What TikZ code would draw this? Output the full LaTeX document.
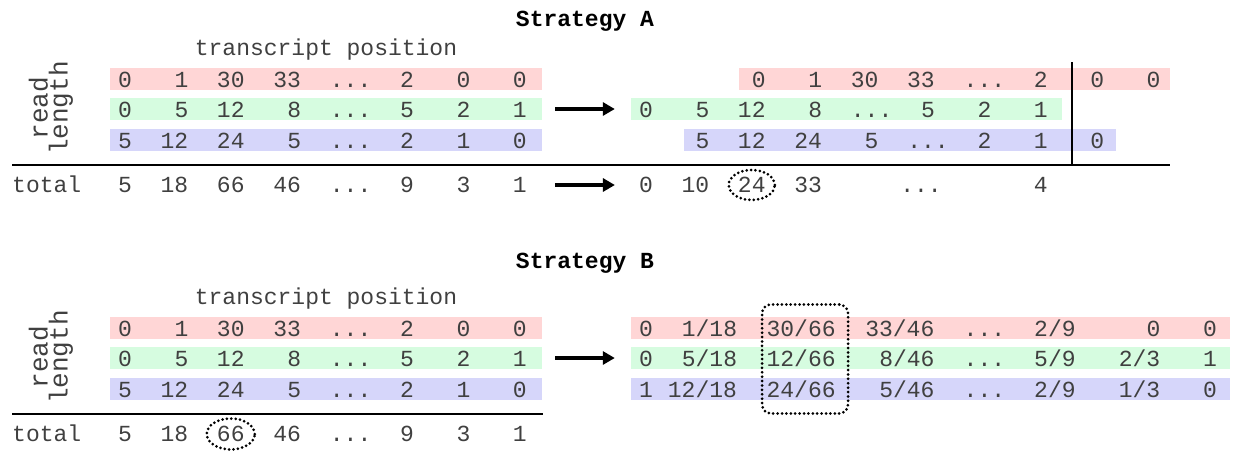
\documentclass[tikz,border=0pt]{standalone}
\usepackage{fontspec}
\setmainfont{Liberation Mono}
\usetikzlibrary{arrows.meta,shapes.geometric}
\definecolor{rowred}{RGB}{255,214,214}
\definecolor{rowgreen}{RGB}{214,252,224}
\definecolor{rowblue}{RGB}{214,214,250}
\definecolor{numgray}{RGB}{64,64,64}
\newcommand{\tdots}{...}

\begin{document}
\begin{tikzpicture}[x=1pt,y=-1pt,
    cell/.style={inner sep=0pt, text height=14pt, text depth=0pt, anchor=base,
        text=numgray, font=\fontsize{23}{23}\selectfont},
    band/.style={inner sep=0pt, minimum height=22pt, minimum width=#1},
    plaintext/.style={inner sep=0pt, anchor=base, text=numgray, font=\fontsize{23}{23}\selectfont},
    heading/.style={inner sep=0pt, anchor=base, font=\fontsize{23}{23}\selectfont\bfseries},
    rule/.style={line width=2pt},
    bigarrow/.style={line width=4pt, -{Triangle[length=12pt,width=13pt]}},
    ring/.style={draw, line width=3pt, dash pattern=on 0pt off 4.4pt, line cap=round, inner sep=0pt}]

    \useasboundingbox (0,0) rectangle (1237,451);
    \pgfmathsetmacro{\cw}{14.1} % width of one character
    \pgfmathsetmacro{\xl}{125}  % first column of the left tables
    \pgfmathsetmacro{\xr}{646}  % first column of the right tables

    % Headings
    \node[heading] (titleA) at (585,26) {Strategy A};
    \node[heading] (titleB) at (585,268) {Strategy B};

    % Left table, the same for both strategies
    \foreach \p/\yo in {A/0,B/249} {
        \node[plaintext] (\p-pos) at (326,{55+\yo}) {transcript position};
        \node[plaintext, rotate=90, align=center, anchor=center,
            font=\fontsize{26}{20}\selectfont] (\p-len) at (51,{108+\yo}) {read\\length};
        \node[band=432pt, fill=rowred] (\p-lrb) at (326,{79+\yo}) {};
        \node[band=432pt, fill=rowgreen] (\p-lgb) at (326,{109+\yo}) {};
        \node[band=432pt, fill=rowblue] (\p-lbb) at (326,{140+\yo}) {};
        \foreach \i/\t [count=\k] in {0/0,4/1,7.5/30,11.5/33,16/\tdots,20/2,24/0,28/0}
            \node[cell] (\p-lr-\k) at ({\xl+\i*\cw},{87+\yo}) {\t};
        \foreach \i/\t [count=\k] in {0/0,4/5,7.5/12,12/8,16/\tdots,20/5,24/2,28/1}
            \node[cell] (\p-lg-\k) at ({\xl+\i*\cw},{117+\yo}) {\t};
        \foreach \i/\t [count=\k] in {0/5,3.5/12,7.5/24,12/5,16/\tdots,20/2,24/1,28/0}
            \node[cell] (\p-lb-\k) at ({\xl+\i*\cw},{148+\yo}) {\t};
        \node[plaintext, anchor=base west] (\p-total) at (12,{192+\yo}) {total};
        \foreach \i/\t [count=\k] in {0/5,3.5/18,7.5/66,11.5/46,16/\tdots,20/9,24/3,28/1}
            \node[cell] (\p-lt-\k) at ({\xl+\i*\cw},{192+\yo}) {\t};
    }

    % Strategy A: rows shifted, then summed
    \node[band=431pt, fill=rowred] (A-rrb) at (954.5,79) {};
    \node[band=431pt, fill=rowgreen] (A-rgb) at (846.5,109) {};
    \node[band=432pt, fill=rowblue] (A-rbb) at (900,140) {};
    \foreach \i/\t [count=\k] in {0/0,4/1,7.5/30,11.5/33,16/\tdots,20/2,24/0,28/0}
        \node[cell] (A-rr-\k) at ({\xr+(8+\i)*\cw},87) {\t};
    \foreach \i/\t [count=\k] in {0/0,4/5,7.5/12,12/8,16/\tdots,20/5,24/2,28/1}
        \node[cell] (A-rg-\k) at ({\xr+\i*\cw},117) {\t};
    \foreach \i/\t [count=\k] in {0/5,3.5/12,7.5/24,12/5,16/\tdots,20/2,24/1,28/0}
        \node[cell] (A-rb-\k) at ({\xr+(4+\i)*\cw},148) {\t};
    \foreach \i/\t [count=\k] in {0/0,3.5/10,7.5/24,11.5/33,19.5/\tdots,28/4}
        \node[cell] (A-rt-\k) at ({\xr+\i*\cw},192) {\t};

    % Strategy B: each entry over its column total
    \node[band=599pt, fill=rowred] (B-rrb) at (930.5,328) {};
    \node[band=599pt, fill=rowgreen] (B-rgb) at (930.5,358) {};
    \node[band=599pt, fill=rowblue] (B-rbb) at (930.5,389) {};
    \foreach \i/\t [count=\k] in {0/0,4.5/{1/18},11/{30/66},18/{33/46},24/\tdots,29/{2/9},36/0,40/0}
        \node[cell] (B-rr-\k) at ({\xr+\i*\cw},336) {\t};
    \foreach \i/\t [count=\k] in {0/0,4.5/{5/18},11/{12/66},18.5/{8/46},24/\tdots,29/{5/9},35/{2/3},40/1}
        \node[cell] (B-rg-\k) at ({\xr+\i*\cw},366) {\t};
    \foreach \i/\t [count=\k] in {0/1,4/{12/18},11/{24/66},18.5/{5/46},24/\tdots,29/{2/9},35/{1/3},40/0}
        \node[cell] (B-rb-\k) at ({\xr+\i*\cw},397) {\t};

    % Rules
    \draw[rule] (12,165) -- (1170,165);
    \draw[rule] (1072,62) -- (1072,165);
    \draw[rule] (12,414) -- (543,414);

    % Arrows
    \draw[bigarrow, shorten <=13pt, shorten >=16pt] (A-lgb) -- (A-rgb);
    \draw[bigarrow, shorten <=28pt, shorten >=24pt] (A-lt-8) -- (A-rt-1);
    \draw[bigarrow, shorten <=13pt, shorten >=16pt] (B-lgb) -- (B-rgb);

    % Dotted marks
    \node[ring, ellipse, minimum width=46pt, minimum height=30pt] (ringA) at (A-rt-3.center) {};
    \node[ring, ellipse, minimum width=48pt, minimum height=31pt] (ringB) at (B-lt-3.center) {};
    \node[ring, rounded corners=9pt, minimum width=86pt, minimum height=109pt] (colB)
        at ([xshift=4pt]B-rg-3.center) {};
\end{tikzpicture}
\end{document}
